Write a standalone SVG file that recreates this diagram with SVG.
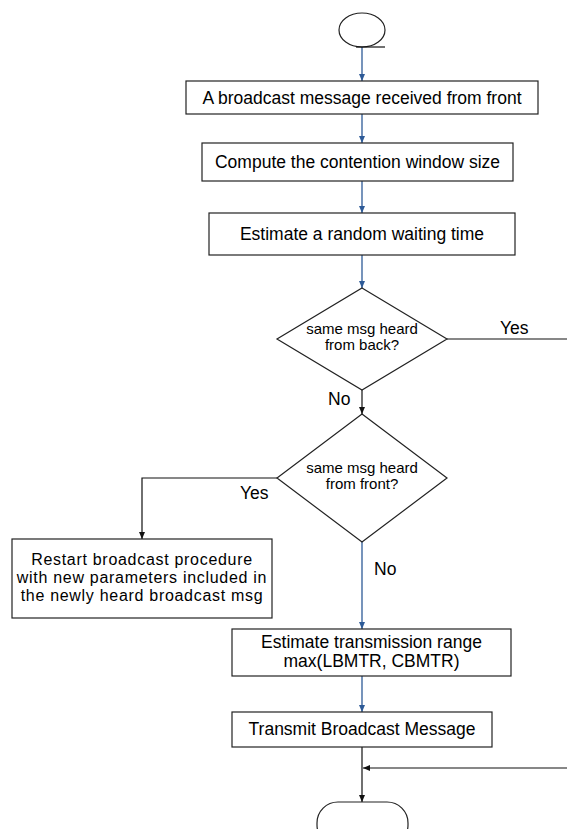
<svg xmlns="http://www.w3.org/2000/svg" width="567" height="829" viewBox="0 0 567 829">
<style>
.shape{fill:#fff;stroke:#222;stroke-width:1.2}
.t{font-family:"Liberation Sans",Arial,sans-serif;font-size:17.5px;fill:#000;text-anchor:middle}
.d{font-size:15px}
.r{font-size:16px;letter-spacing:0.7px}
.blue{fill:none;stroke:#2D5A97;stroke-width:1.3}
.blk{fill:none;stroke:#111;stroke-width:1.2}
.lbl{font-family:"Liberation Sans",Arial,sans-serif;font-size:17.5px;fill:#000}
</style>
<defs>
<marker id="ab" markerUnits="userSpaceOnUse" markerWidth="8" markerHeight="8" refX="7" refY="4" orient="auto"><path d="M0,1 L7,4 L0,7 Z" fill="#2D5A97"/></marker>
<marker id="ak" markerUnits="userSpaceOnUse" markerWidth="8" markerHeight="8" refX="7" refY="4" orient="auto"><path d="M0,1 L7,4 L0,7 Z" fill="#111"/></marker>
</defs>
<g id="connectors">
<path class="blue" d="M362,47 V81" marker-end="url(#ab)"/>
<path class="blue" d="M362,114 V143" marker-end="url(#ab)"/>
<path class="blue" d="M362,181 V213" marker-end="url(#ab)"/>
<path class="blue" d="M362,255 V288" marker-end="url(#ab)"/>
<path class="blk" d="M447,339 H567"/>
<path class="blk" d="M362,390 V414" marker-end="url(#ak)"/>
<path class="blk" d="M277,478 H142 V539" marker-end="url(#ak)"/>
<path class="blue" d="M362,542 V629" marker-end="url(#ab)"/>
<path class="blue" d="M362,676 V712" marker-end="url(#ab)"/>
<path class="blk" d="M362,747 V802" marker-end="url(#ak)"/>
<path class="blk" d="M567,768 H363" marker-end="url(#ak)"/>
<text class="lbl" x="500" y="334">Yes</text>
<text class="lbl" x="328" y="405">No</text>
<text class="lbl" x="240" y="499">Yes</text>
<text class="lbl" x="374" y="575">No</text>
</g>
<g id="start">
<ellipse class="shape" cx="362" cy="30" rx="23" ry="17"/>
<path class="blk" d="M356,47 H385"/>
</g>
<g id="receive">
<rect class="shape" x="186" y="81" width="352" height="33"/>
<text class="t" x="362" y="103.5">A broadcast message received from front</text>
</g>
<g id="compute">
<rect class="shape" x="202" y="143" width="311" height="38"/>
<text class="t" x="357.5" y="167.5">Compute the contention window size</text>
</g>
<g id="estimate-wait">
<rect class="shape" x="209" y="213" width="306" height="42"/>
<text class="t" x="362" y="239.5">Estimate a random waiting time</text>
</g>
<g id="decision-back">
<polygon class="shape" points="362,288 447,339 362,390 277,339"/>
<text class="t d" x="362" y="334">same msg heard</text>
<text class="t d" x="362" y="350">from back?</text>
</g>
<g id="decision-front">
<polygon class="shape" points="362,414 447,478 362,542 277,478"/>
<text class="t d" x="362" y="473">same msg heard</text>
<text class="t d" x="362" y="489">from front?</text>
</g>
<g id="restart">
<rect class="shape" x="12" y="539" width="260" height="79"/>
<text class="t r" x="142" y="564.5">Restart broadcast procedure</text>
<text class="t r" x="142" y="582.8">with new parameters included in</text>
<text class="t r" x="142" y="601.1">the newly heard broadcast msg</text>
</g>
<g id="estimate-range">
<rect class="shape" x="232" y="629" width="279" height="47"/>
<text class="t" x="371.5" y="648">Estimate transmission range</text>
<text class="t" x="371.5" y="666.5">max(LBMTR, CBMTR)</text>
</g>
<g id="transmit">
<rect class="shape" x="232" y="712" width="260" height="35"/>
<text class="t" x="362" y="734.5">Transmit Broadcast Message</text>
</g>
<g id="end">
<rect class="shape" x="317" y="802" width="91" height="44" rx="21" ry="21"/>
</g>
</svg>
